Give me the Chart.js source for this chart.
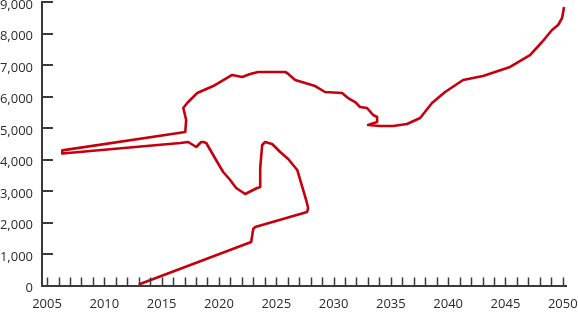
<!DOCTYPE html>
<html>
<head>
<meta charset="utf-8">
<script src="https://cdn.jsdelivr.net/npm/chart.js@4.4.0/dist/chart.umd.min.js"></script>
<style>
  html, body { margin: 0; padding: 0; background: #fff; }
  #wrap { width: 578px; height: 327px; position: relative; }
</style>
</head>
<body>
<div id="wrap"><canvas id="chart"></canvas></div>
<script>
// path of the line (year, value)
const years = [
  2013.0, 2022.81, 2022.99, 2023.16, 2027.69, 2027.78, 2027.61, 2026.83, 2026.04, 2025.34,
  2024.64, 2024.03, 2023.77, 2023.68, 2023.6, 2023.6, 2023.33, 2022.29, 2021.5, 2020.98,
  2020.37, 2019.85, 2018.89, 2018.63, 2018.45, 2018.02, 2017.32, 2016.62, 2006.33, 2006.33,
  2017.06, 2017.14, 2016.89, 2017.23, 2018.1, 2019.5, 2021.15, 2022.03, 2022.72, 2023.42,
  2025.77, 2025.95, 2026.65, 2028.39, 2029.26, 2030.74, 2031.27, 2031.88, 2032.31, 2032.92,
  2033.45, 2033.8, 2033.8, 2033.01, 2034.06, 2035.19, 2036.41, 2037.55, 2038.59, 2039.73,
  2041.3, 2043.04, 2045.4, 2047.14, 2048.19, 2049.06, 2049.59, 2049.94, 2050.11
];
const values = [
  30, 1381, 1794, 1857, 2333, 2460, 2714, 3667, 4016, 4238,
  4492, 4556, 4460, 4079, 3730, 3127, 3095, 2905, 3095, 3349,
  3603, 3921, 4524, 4556, 4556, 4397, 4556, 4524, 4190, 4290,
  4873, 5254, 5635, 5794, 6111, 6333, 6683, 6619, 6714, 6778,
  6778, 6746, 6524, 6333, 6143, 6111, 5952, 5825, 5667, 5635,
  5413, 5349, 5190, 5095, 5063, 5063, 5127, 5317, 5794, 6143,
  6524, 6651, 6937, 7317, 7730, 8111, 8270, 8492, 8841
];

const xLabels = [2005, 2010, 2015, 2020, 2025, 2030, 2035, 2040, 2045, 2050];
const yTicks = [0, 1000, 2000, 3000, 4000, 5000, 6000, 7000, 8000, 9000];

const points = years.map((y, i) => ({ x: y, y: values[i] }));

// minor ticks every year
const xTicks = [];
for (let y = xLabels[0]; y <= xLabels[xLabels.length - 1]; y++) xTicks.push(y);

const axisColor = "#3a3a3a";
const fontFamily = "'Open Sans', sans-serif";

// tick marks pointing into the plot
const inwardTicks = {
  id: "inwardTicks",
  afterDraw(chart) {
    const ctx = chart.ctx;
    const xs = chart.scales.x;
    const ys = chart.scales.y;
    ctx.save();
    ctx.strokeStyle = axisColor;
    ctx.lineWidth = 1.5;
    ctx.beginPath();
    xTicks.forEach((v) => {
      const px = Math.round(xs.getPixelForValue(v)) + 0.5;
      ctx.moveTo(px, ys.bottom);
      ctx.lineTo(px, ys.bottom - 8);
    });
    ctx.stroke();
    ctx.lineWidth = 2;
    ctx.beginPath();
    yTicks.forEach((v) => {
      if (v === 0) return;
      const py = Math.round(ys.getPixelForValue(v));
      ctx.moveTo(xs.left, py);
      ctx.lineTo(xs.left + 11, py);
    });
    ctx.stroke();
    ctx.restore();
  },
};

new Chart(document.getElementById("chart"), {
  type: "scatter",
  data: {
    datasets: [
      {
        data: points,
        showLine: true,
        borderColor: "#c4000d",
        backgroundColor: "#c4000d",
        borderWidth: 2.6,
        pointRadius: 0,
        tension: 0,
        borderJoinStyle: "round",
        clip: false,
      },
    ],
  },
  options: {
    responsive: true,
    maintainAspectRatio: false,
    animation: false,
    layout: { padding: { top: 2, right: 12, left: 0, bottom: 0 } },
    plugins: {
      legend: { display: false },
      tooltip: { enabled: false },
    },
    scales: {
      x: {
        type: "linear",
        min: 2004.56,
        max: 2050.28,
        afterBuildTicks: (scale) => {
          scale.ticks = xLabels.map((v) => ({ value: v }));
        },
        afterFit: (scale) => {
          scale.height = 41.5;
          scale.paddingLeft = 0;
          scale.paddingRight = 0;
        },
        grid: { display: false, drawTicks: false },
        border: { display: true, color: axisColor, width: 2 },
        ticks: {
          autoSkip: false,
          maxRotation: 0,
          padding: 11,
          color: "#2b2b2b",
          font: { family: fontFamily, size: 13 },
          callback: (v) => String(v),
        },
      },
      y: {
        min: 0,
        max: 9000,
        afterBuildTicks: (scale) => {
          scale.ticks = yTicks.map((v) => ({ value: v }));
        },
        afterFit: (scale) => {
          scale.width = 42;
          scale.paddingTop = 0;
          scale.paddingBottom = 0;
        },
        grid: { display: false, drawTicks: false },
        border: { display: true, color: axisColor, width: 2 },
        ticks: {
          padding: 9,
          labelOffset: 3,
          color: "#2b2b2b",
          font: { family: fontFamily, size: 13 },
          callback: (v) => v.toLocaleString("en-US"),
        },
      },
    },
  },
  plugins: [inwardTicks],
});
</script>
</body>
</html>
